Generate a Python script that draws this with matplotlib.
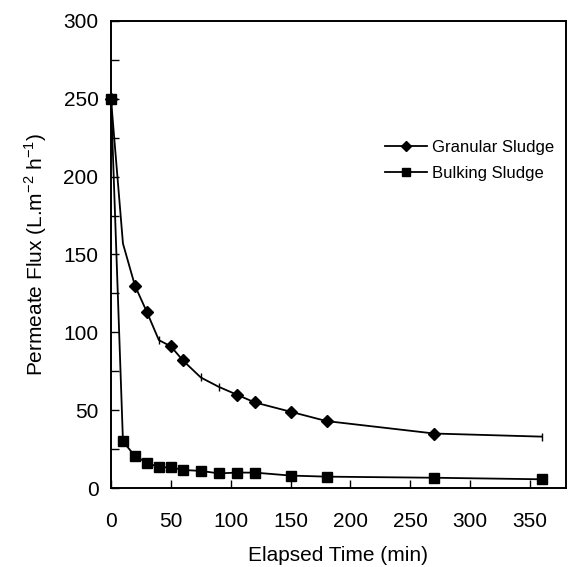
import matplotlib
matplotlib.use("Agg")
import matplotlib.pyplot as plt
from matplotlib.lines import Line2D
from matplotlib.ticker import MultipleLocator

plt.rcParams['font.family'] = ['Liberation Sans', 'DejaVu Sans']
plt.rcParams['mathtext.fontset'] = 'custom'
plt.rcParams['mathtext.rm'] = 'Liberation Sans'

# Data
time_granular = [0, 10, 20, 30, 40, 50, 60, 75, 90, 105, 120, 150, 180, 270, 360]
flux_granular = [250, 157, 130, 113, 95, 91, 82, 71, 65, 60, 55, 49, 43, 35, 33]
diamond_idx = [0, 2, 3, 5, 6, 9, 10, 11, 12, 13]
tick_idx = [4, 7, 8, 14]

time_bulking = [0, 10, 20, 30, 40, 50, 60, 75, 90, 105, 120, 150, 180, 270, 360]
flux_bulking = [250, 30, 20.5, 16.3, 13.3, 13.3, 11.6, 11, 9.4, 9.9, 9.9, 8, 7.3, 6.6, 5.6]

fig = plt.figure(figsize=(5.68, 5.67), dpi=100)
ax = fig.add_axes([0.1954, 0.1393, 0.8011, 0.8237])

ax.plot(time_granular, flux_granular, color='black', lw=1.3)
ax.plot([time_granular[i] for i in diamond_idx], [flux_granular[i] for i in diamond_idx],
        ls='none', marker='D', ms=5.8, color='black', clip_on=False)
ax.plot([time_granular[i] for i in tick_idx], [flux_granular[i] for i in tick_idx],
        ls='none', marker='|', ms=6, mew=1, color='black', clip_on=False)

ax.plot(time_bulking, flux_bulking, color='black', lw=1.3, marker='s', ms=6.5,
        clip_on=False)

ax.set_xlim(0, 380)
ax.set_ylim(0, 300)
ax.yaxis.set_major_locator(MultipleLocator(50))
ax.yaxis.set_minor_locator(MultipleLocator(25))
ax.set_xticks([0, 50, 100, 150, 200, 250, 300, 350])

ax.tick_params(axis='both', which='both', direction='in', width=1, colors='black')
ax.tick_params(axis='x', which='major', length=6, pad=17, labelsize=15)
ax.tick_params(axis='y', which='major', length=6, pad=9, labelsize=15)
ax.tick_params(axis='y', which='minor', length=6)
for sp in ax.spines.values():
    sp.set_linewidth(1.4)

ax.set_xlabel('Elapsed Time (min)', fontsize=15, labelpad=11)
ax.set_ylabel(r'Permeate Flux (L.m$^{\mathregular{-2}}$ h$^{\mathregular{-1}}$)',
              fontsize=15, labelpad=10)

handles = [Line2D([], [], color='black', lw=1.3, marker='D', ms=5),
           Line2D([], [], color='black', lw=1.3, marker='s', ms=6)]
ax.legend(handles, ['Granular Sludge', 'Bulking Sludge'], loc='upper left',
          bbox_to_anchor=(0.602, 0.746), frameon=False, fontsize=12,
          handlelength=2.5, handletextpad=0.3, labelspacing=0.67,
          borderaxespad=0, borderpad=0)

fig.savefig('out.png', dpi=100)
